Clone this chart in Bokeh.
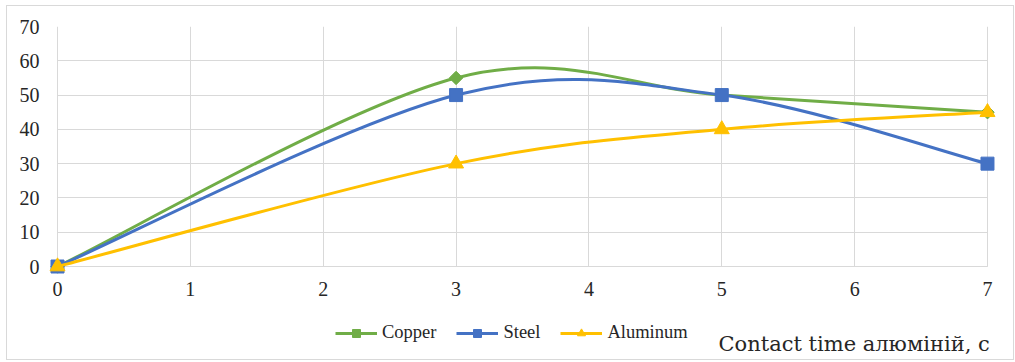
from bokeh.plotting import figure
from bokeh.models import (ColumnDataSource, Legend, LegendItem, Label,
                          FixedTicker, Range1d, LinearAxis)
from bokeh.embed import file_html
from bokeh.resources import INLINE

# contact time, s
times = [0, 3, 5, 7]
copper = [0, 55, 50, 45]
steel = [0, 50, 50, 30]
aluminum = [0, 30, 40, 45]

x_ticks = [0, 1, 2, 3, 4, 5, 6, 7]
y_ticks = [0, 10, 20, 30, 40, 50, 60, 70]

series = [
    ("Copper", copper, "#70AD47", "square", 9.5, 0.785398),
    ("Steel", steel, "#4472C4", "square", 13, 0.0),
    ("Aluminum", aluminum, "#FFC000", "triangle", 15, 0.0),
]

SERIF = "'Liberation Serif'"
CAPTION_FONT = "'DejaVu Serif'"


def smooth_segments(xs, ys):
    """Cubic Bezier pieces through the points (Catmull-Rom style control points)."""
    n = len(xs)
    seg = dict(x0=[], y0=[], x1=[], y1=[], cx0=[], cy0=[], cx1=[], cy1=[])
    for i in range(n - 1):
        xp, yp = (xs[i - 1], ys[i - 1]) if i > 0 else (xs[i], ys[i])
        xn, yn = (xs[i + 2], ys[i + 2]) if i + 2 < n else (xs[i + 1], ys[i + 1])
        seg["x0"].append(xs[i]); seg["y0"].append(ys[i])
        seg["x1"].append(xs[i + 1]); seg["y1"].append(ys[i + 1])
        seg["cx0"].append(xs[i] + (xs[i + 1] - xp) / 6)
        seg["cy0"].append(ys[i] + (ys[i + 1] - yp) / 6)
        seg["cx1"].append(xs[i + 1] - (xn - xs[i]) / 6)
        seg["cy1"].append(ys[i + 1] - (yn - ys[i]) / 6)
    return seg


# thin grey frame around the whole chart, painted behind a transparent canvas
frame_css = {
    "background-image": ", ".join(["linear-gradient(#d9d9d9, #d9d9d9)"] * 4),
    "background-position": "6px 5px, 6px 359px, 6px 5px, 1013px 5px",
    "background-size": "1008px 1px, 1008px 1px, 1px 355px, 1px 355px",
    "background-repeat": "no-repeat",
}

# the plotting frame reaches past the 0..7 x 0..70 data box to hold the
# first tick label, the legend and the caption; axis and grid stay bounded
p = figure(width=1015, height=362, output_backend="svg", toolbar_location=None,
           x_range=Range1d(-0.128, 7.098), y_range=Range1d(-26.54, 70),
           x_axis_location=None,
           min_border_left=40, min_border_right=15,
           min_border_top=26, min_border_bottom=5,
           styles=frame_css)
p.background_fill_color = None
p.border_fill_color = None
p.outline_line_color = None

xaxis = LinearAxis(fixed_location=0, bounds=(0, 7),
                   ticker=FixedTicker(ticks=x_ticks))
p.add_layout(xaxis, "below")
xaxis.level = "underlay"

for ax in (xaxis, p.yaxis[0]):
    ax.major_tick_line_color = None
    ax.minor_tick_line_color = None
    ax.major_tick_out = 0
    ax.minor_tick_out = 0
    ax.major_label_text_font = SERIF
    ax.major_label_text_font_size = "20px"
    ax.major_label_text_color = "#262626"
p.yaxis[0].ticker = FixedTicker(ticks=y_ticks)
p.yaxis[0].bounds = (0, 70)
xaxis.axis_line_color = "#d9d9d9"
p.yaxis[0].axis_line_color = None
xaxis.major_label_standoff = 15
p.yaxis[0].major_label_standoff = 1

p.xgrid.ticker = FixedTicker(ticks=x_ticks)
p.ygrid.ticker = FixedTicker(ticks=y_ticks)
p.xgrid[0].cross_bounds = (0, 70)
p.ygrid[0].cross_bounds = (0, 7)
for g in (p.xgrid[0], p.ygrid[0]):
    g.grid_line_color = "#d9d9d9"
    g.grid_line_width = 1

items = []
for name, vals, color, marker, size, angle in series:
    seg = ColumnDataSource(smooth_segments(times, vals))
    curve = p.bezier("x0", "y0", "x1", "y1", "cx0", "cy0", "cx1", "cy1",
                     source=seg, line_color=color, line_width=3)
    pts = p.scatter(times, vals, marker=marker, size=size, angle=angle,
                    fill_color=color, line_color=color)
    items.append(LegendItem(label=name, renderers=[curve, pts]))

legend = Legend(items=items, orientation="horizontal", location=(295, 14),
                glyph_width=42, glyph_height=20, label_standoff=5, spacing=20,
                padding=0, margin=0, border_line_color=None,
                background_fill_alpha=0,
                label_text_font=SERIF, label_text_font_size="18.5px",
                label_text_color="#262626")
p.add_layout(legend, "center")

p.add_layout(Label(x=678, y=2, x_units="screen", y_units="screen",
                   text="Contact time алюміній, с", text_font=CAPTION_FONT,
                   text_font_size="21px", text_color="#262626"))

open("out.html", "w").write(file_html(p, INLINE))
